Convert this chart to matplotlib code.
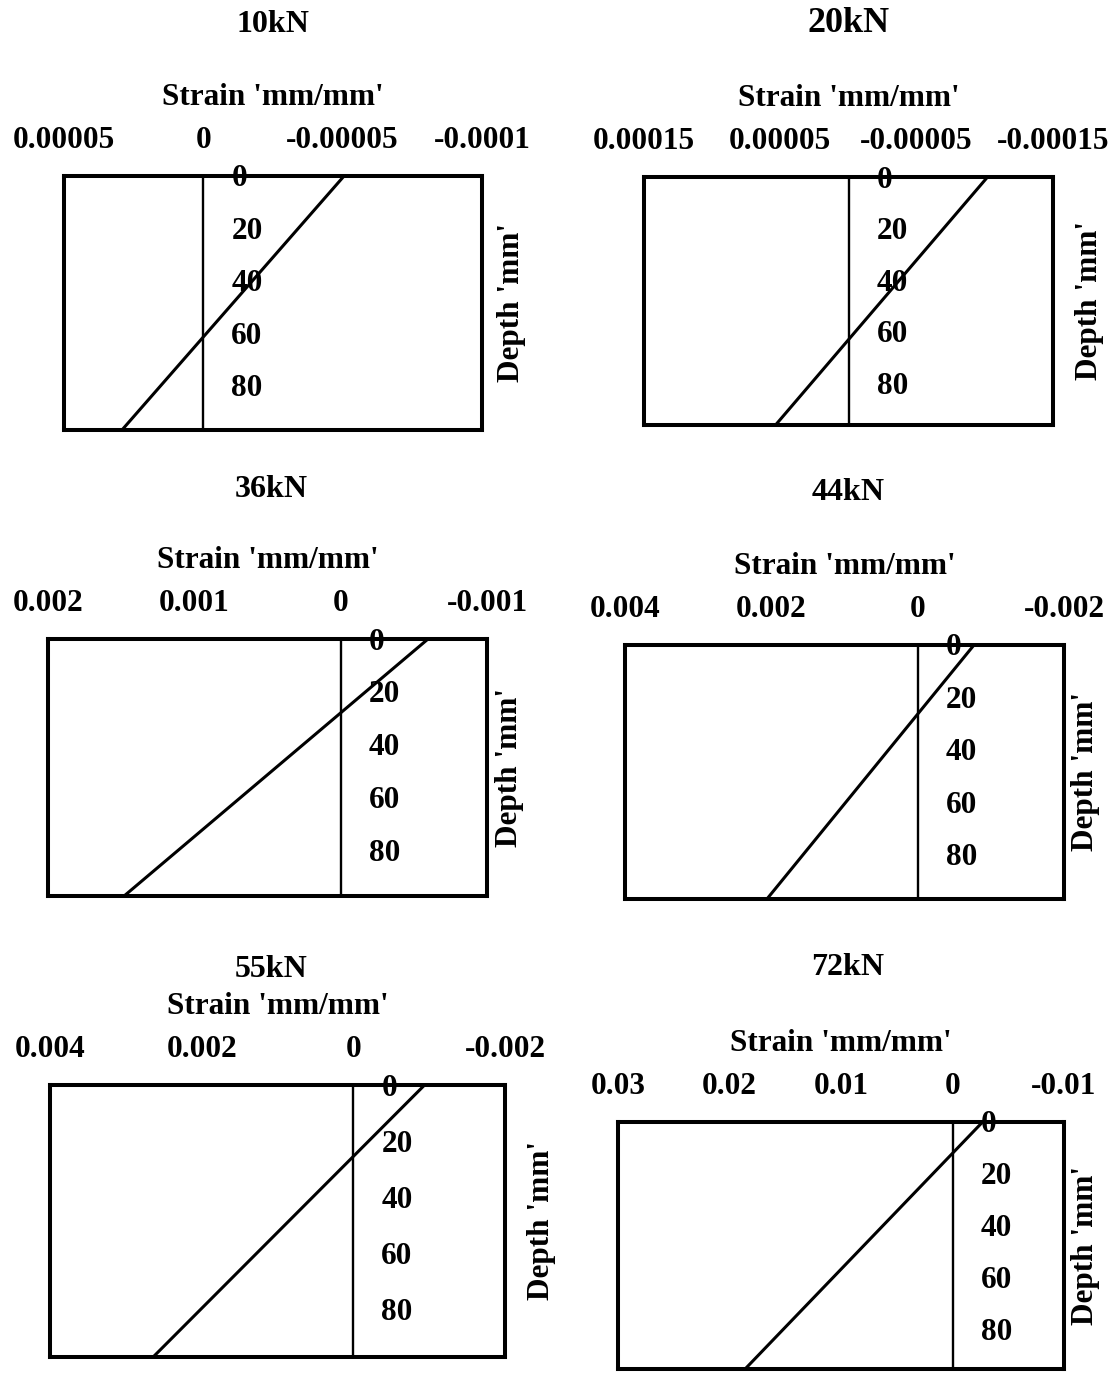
import matplotlib.pyplot as plt
from matplotlib.transforms import offset_copy

plt.rcParams['font.family'] = 'Liberation Serif'
plt.rcParams['font.weight'] = 'bold'

# ---- data ----
loads = ['10kN', '20kN', '36kN', '44kN', '55kN', '72kN']

# strain at top (depth 0) and at bottom of section
strain_10 = [-0.0000505, 0.0000292]
strain_20 = [-0.000102, 0.0000535]
strain_36 = [-0.000597, 0.00148]
strain_44 = [-0.00077, 0.00206]
strain_55 = [-0.00094, 0.00264]
strain_72 = [-0.0027, 0.0186]
strains = [strain_10, strain_20, strain_36, strain_44, strain_55, strain_72]

depth_10 = [0, 97]
depth_20 = [0, 96]
depth_36 = [0, 97]
depth_44 = [0, 97]
depth_55 = [0, 97]
depth_72 = [0, 95]
depths = [depth_10, depth_20, depth_36, depth_44, depth_55, depth_72]

xticks_10 = [0.00005, 0, -0.00005, -0.0001]
xticks_20 = [0.00015, 0.00005, -0.00005, -0.00015]
xticks_36 = [0.002, 0.001, 0, -0.001]
xticks_44 = [0.004, 0.002, 0, -0.002]
xticks_55 = [0.004, 0.002, 0, -0.002]
xticks_72 = [0.03, 0.02, 0.01, 0, -0.01]
xticks = [xticks_10, xticks_20, xticks_36, xticks_44, xticks_55, xticks_72]

xlabels_10 = ['0.00005', '0', '-0.00005', '-0.0001']
xlabels_20 = ['0.00015', '0.00005', '-0.00005', '-0.00015']
xlabels_36 = ['0.002', '0.001', '0', '-0.001']
xlabels_44 = ['0.004', '0.002', '0', '-0.002']
xlabels_55 = ['0.004', '0.002', '0', '-0.002']
xlabels_72 = ['0.03', '0.02', '0.01', '0', '-0.01']
xlabels = [xlabels_10, xlabels_20, xlabels_36, xlabels_44, xlabels_55, xlabels_72]

depth_ticks = [0, 20, 40, 60, 80]

# ---- layout (pixels: left, top, right, bottom) ----
W, H = 1115, 1374
boxes = [(64, 176, 482, 430), (644, 177, 1053, 425),
         (48, 639, 487, 896), (625, 645, 1064, 899),
         (50, 1085, 505, 1357), (618, 1122, 1064, 1369)]
title_size = [23, 26, 23, 23, 23, 23]
title_dx = [0, 0, 4, 4, -6, 7]
title_rise = [144, 145, 142, 145, 108, 147]
depth_dx = [30, 36, 23, 22, 37, 22]

fs = 22.5
fs_px = fs * 100 / 72

fig = plt.figure(figsize=(W / 100, H / 100), dpi=100)

for i in range(6):
    l, t, r, b = boxes[i]
    ax = fig.add_axes([l / W, 1 - b / H, (r - l) / W, (b - t) / H])
    ax.set_xlim(xticks[i][0], xticks[i][-1])
    ax.set_ylim(depths[i][1], 0)

    ax.plot(strains[i], depths[i], color='black', lw=2.2, zorder=3)
    ax.axvline(0, color='black', lw=1.7, zorder=2)

    for s in ax.spines.values():
        s.set_linewidth(2.9)
        s.set_color('black')

    # strain axis on top
    ax.xaxis.tick_top()
    ax.set_xticks(xticks[i])
    ax.set_xticklabels(xlabels[i], fontsize=fs, fontweight='bold')
    ax.tick_params(axis='x', length=0, pad=(28 - 0.217 * fs_px) * 0.72)
    ax.set_yticks([])

    # depth labels sitting next to the zero line
    tr = offset_copy(ax.transData, fig=fig, x=28, y=-10.5, units='dots')
    for d in depth_ticks:
        ax.text(0, d, str(d), transform=tr, fontsize=fs, fontweight='bold',
                ha='left', va='baseline', zorder=1)

    ax.annotate("Strain 'mm/mm'", xy=(0.5, 1), xycoords='axes fraction',
                xytext=(0, 71), textcoords='offset pixels',
                ha='center', va='baseline', fontsize=fs, fontweight='bold')
    ax.annotate(loads[i], xy=(0.5, 1), xycoords='axes fraction',
                xytext=(title_dx[i], title_rise[i]), textcoords='offset pixels',
                ha='center', va='baseline', fontsize=title_size[i], fontweight='bold')
    ax.annotate("Depth 'mm'", xy=(1, 0.5), xycoords='axes fraction',
                xytext=(depth_dx[i], 0), textcoords='offset pixels',
                ha='center', va='center', rotation=90,
                fontsize=fs, fontweight='bold')

plt.savefig('out.png', dpi=100)
